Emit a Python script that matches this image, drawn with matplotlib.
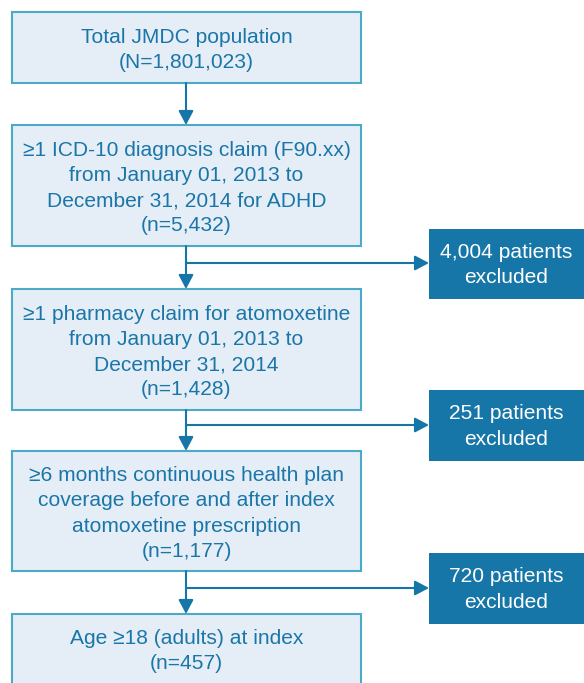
import matplotlib.pyplot as plt
from matplotlib.patches import Rectangle

plt.rcParams['font.family'] = ['Liberation Sans', 'DejaVu Sans']

# main flow boxes
steps = [
    "Total JMDC population\n(N=1,801,023)",
    "\u22651 ICD-10 diagnosis claim (F90.xx)\nfrom January 01, 2013 to\nDecember 31, 2014 for ADHD\n(n=5,432)",
    "\u22651 pharmacy claim for atomoxetine\nfrom January 01, 2013 to\nDecember 31, 2014\n(n=1,428)",
    "\u22656 months continuous health plan\ncoverage before and after index\natomoxetine prescription\n(n=1,177)",
    "Age \u226518 (adults) at index\n(n=457)",
]
# excluded boxes
excluded = [
    "4,004 patients\nexcluded",
    "251 patients\nexcluded",
    "720 patients\nexcluded",
]

step_top = [12, 125, 289, 451, 614]
step_bot = [83, 246, 410, 571, 700]
excl_top = [229, 390, 553]
excl_bot = [299, 461, 624]
branch_y = [263, 425, 588]

fill = '#e5eef6'
edge = '#4aaac8'
txt = '#1a76a8'
dark = '#1776a8'

fig = plt.figure(figsize=(5.84, 6.83), dpi=100)
ax = fig.add_axes([0, 0, 1, 1])
ax.set_xlim(0, 584)
ax.set_ylim(683, 0)
ax.axis('off')

fs = 15.1
ls = 1.42
head = '-|>,head_width=0.45,head_length=0.85'

left, right = 12, 361
cx = 186
for s, t, b in zip(steps, step_top, step_bot):
    ax.add_patch(Rectangle((left, t), right - left, b - t, facecolor=fill,
                           edgecolor=edge, linewidth=1.5))
    yc = (t + b) / 2 + 2.5 if b <= 683 else t + 37
    ax.text((left + right) / 2, yc, s, ha='center', va='center', color=txt,
            fontsize=fs, linespacing=ls)

# vertical arrows
for i in range(len(steps) - 1):
    ax.annotate('', xy=(cx, step_top[i + 1]), xytext=(cx, step_bot[i]),
                arrowprops=dict(arrowstyle=head, color=dark, lw=1.5,
                                shrinkA=0, shrinkB=0))

ex_left, ex_right = 429, 584
for s, t, b, y in zip(excluded, excl_top, excl_bot, branch_y):
    ax.add_patch(Rectangle((ex_left, t), ex_right - ex_left + 2, b - t,
                           facecolor=dark, edgecolor='none'))
    ax.text((ex_left + ex_right) / 2, (t + b) / 2 + 1, s, ha='center', va='center',
            color='white', fontsize=fs, linespacing=ls)
    ax.annotate('', xy=(ex_left, y), xytext=(cx, y),
                arrowprops=dict(arrowstyle=head, color=dark, lw=1.5,
                                shrinkA=0, shrinkB=0))

fig.savefig('out.png', dpi=100)
